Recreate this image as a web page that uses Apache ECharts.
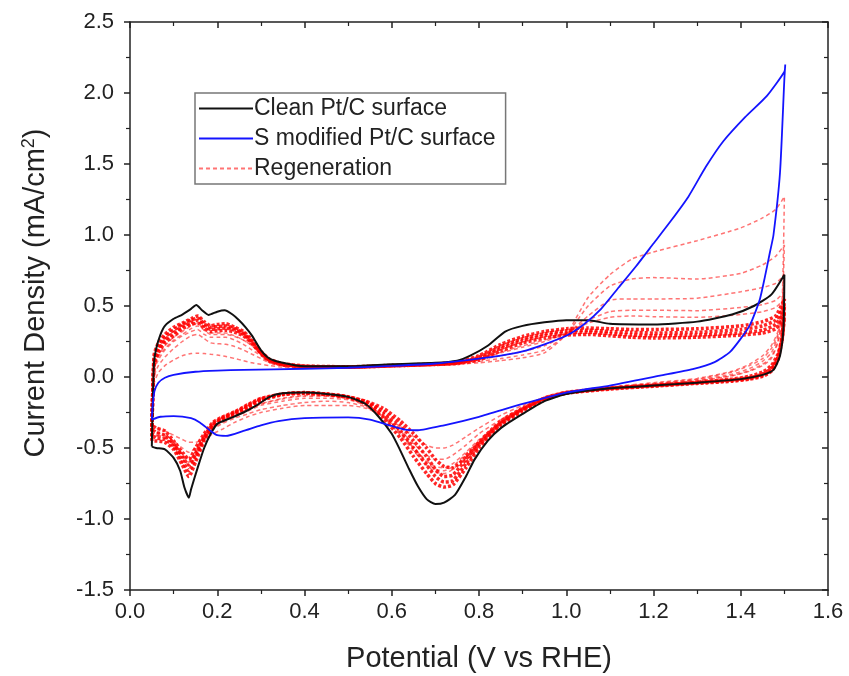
<!DOCTYPE html>
<html>
<head>
<meta charset="utf-8">
<title>CV regeneration</title>
<script src="https://cdn.jsdelivr.net/npm/echarts@6/dist/echarts.min.js"></script>
<style>
  html, body { margin: 0; padding: 0; background: #fff; }
  #chart { width: 849px; height: 676px; }
</style>
</head>
<body>
<div id="chart"></div>
<script>
// clean Pt/C surface, [potential, current density]
var cleanCurve = [
  [0.05,-0.49],[0.052,-0.2],[0.055,0.1],[0.06,0.2],[0.07,0.3],[0.08,0.36],[0.1,0.41],[0.12,0.44],[0.14,0.48],[0.152,0.507],
  [0.165,0.47],[0.18,0.437],[0.2,0.46],[0.217,0.47],[0.235,0.44],[0.25,0.4],[0.265,0.35],[0.28,0.29],[0.3,0.19],[0.32,0.13],
  [0.35,0.1],[0.4,0.075],[0.5,0.075],[0.6,0.09],[0.7,0.1],[0.75,0.115],[0.78,0.15],[0.82,0.22],[0.86,0.32],[0.9,0.36],
  [0.95,0.385],[1.0,0.4],[1.05,0.4],[1.1,0.375],[1.2,0.37],[1.3,0.39],[1.38,0.44],[1.43,0.5],[1.47,0.58],[1.5,0.72],
  [1.498,0.35],[1.49,0.15],[1.475,0.05],[1.45,0.015],[1.4,-0.015],[1.3,-0.04],[1.2,-0.06],[1.1,-0.08],[1.0,-0.12],[0.95,-0.17],
  [0.9,-0.26],[0.85,-0.36],[0.82,-0.45],[0.79,-0.58],[0.77,-0.70],[0.745,-0.83],[0.72,-0.885],[0.7,-0.895],[0.68,-0.86],[0.66,-0.77],
  [0.64,-0.65],[0.62,-0.52],[0.6,-0.40],[0.57,-0.28],[0.54,-0.19],[0.5,-0.14],[0.45,-0.12],[0.4,-0.11],[0.35,-0.115],[0.32,-0.14],
  [0.29,-0.2],[0.26,-0.25],[0.23,-0.29],[0.2,-0.33],[0.185,-0.4],[0.17,-0.5],[0.155,-0.64],[0.14,-0.79],[0.135,-0.85],[0.125,-0.78],
  [0.115,-0.66],[0.1,-0.57],[0.08,-0.51],[0.06,-0.5],[0.05,-0.49]
];

// S modified Pt/C surface
var sModifiedCurve = [
  [0.05,-0.3],[0.052,-0.2],[0.056,-0.1],[0.065,-0.04],[0.08,-0.005],[0.1,0.015],[0.15,0.037],[0.2,0.045],[0.26,0.05],[0.4,0.058],
  [0.5,0.065],[0.6,0.078],[0.7,0.095],[0.8,0.13],[0.85,0.15],[0.9,0.18],[0.95,0.23],[1.0,0.29],[1.04,0.37],[1.08,0.48],
  [1.12,0.63],[1.16,0.78],[1.2,0.94],[1.24,1.1],[1.28,1.27],[1.32,1.48],[1.36,1.66],[1.41,1.83],[1.46,1.98],[1.5,2.15],
  [1.502,2.2],[1.5,2.1],[1.49,1.44],[1.475,1.0],[1.467,0.88],[1.455,0.7],[1.444,0.55],[1.43,0.43],[1.42,0.36],[1.4,0.27],
  [1.375,0.175],[1.34,0.105],[1.29,0.056],[1.215,0.01],[1.1,-0.06],[1.0,-0.11],[0.9,-0.19],[0.8,-0.28],[0.72,-0.34],[0.66,-0.375],
  [0.63,-0.37],[0.6,-0.345],[0.55,-0.3],[0.5,-0.285],[0.4,-0.29],[0.34,-0.31],[0.3,-0.34],[0.26,-0.38],[0.22,-0.415],[0.2,-0.41],
  [0.185,-0.38],[0.16,-0.32],[0.14,-0.29],[0.1,-0.275],[0.07,-0.28],[0.05,-0.3]
];

// regeneration cycles share one potential sweep (up to 1.5 V, then back down)
var regenPotential = [
  0.05,0.055,0.065,0.08,0.1,0.12,0.14,0.155,0.17,0.185,0.2,0.22,0.24,0.26,0.28,0.3,0.32,0.35,0.4,0.5,0.6,0.7,0.75,0.8,0.85,0.9,0.95,1.0,1.05,1.1,1.15,1.2,1.3,1.4,1.45,1.48,1.5,
  1.495,1.485,1.47,1.45,1.42,1.38,1.3,1.2,1.1,1.0,0.95,0.9,0.85,0.8,0.77,0.74,0.72,0.7,0.68,0.65,0.62,0.58,0.54,0.5,0.45,0.4,0.35,0.3,0.27,0.24,0.21,0.19,0.17,0.15,0.135,0.12,0.1,0.08,0.06,0.055,0.05
];

// early cycles (still sulfur covered)
var regenCycle1 = [
  -0.35,-0.05,0.03,0.08,0.12,0.15,0.165,0.168,0.165,0.16,0.155,0.145,0.13,0.115,0.1,0.09,0.08,0.07,0.065,0.065,0.075,0.085,0.09,0.1,0.115,0.135,0.17,0.3,0.56,0.72,0.83,0.88,0.96,1.05,1.12,1.18,1.27,
  0.55,0.32,0.22,0.15,0.09,0.04,-0.01,-0.04,-0.07,-0.11,-0.15,-0.2,-0.27,-0.36,-0.42,-0.48,-0.5,-0.5,-0.48,-0.42,-0.35,-0.27,-0.22,-0.2,-0.2,-0.2,-0.22,-0.25,-0.28,-0.32,-0.37,-0.4,-0.44,-0.46,-0.46,-0.44,-0.41,-0.38,-0.36,-0.35,-0.35
];
var regenCycle2 = [
  -0.38,0.0,0.08,0.14,0.2,0.25,0.29,0.3,0.27,0.24,0.235,0.23,0.215,0.19,0.16,0.13,0.1,0.08,0.07,0.068,0.078,0.088,0.095,0.11,0.13,0.155,0.19,0.3,0.5,0.64,0.69,0.7,0.69,0.73,0.79,0.85,0.93,
  0.5,0.3,0.2,0.13,0.08,0.035,-0.015,-0.045,-0.075,-0.115,-0.16,-0.22,-0.3,-0.4,-0.48,-0.55,-0.58,-0.58,-0.55,-0.47,-0.38,-0.28,-0.21,-0.18,-0.17,-0.18,-0.2,-0.23,-0.26,-0.29,-0.33,-0.37,-0.43,-0.5,-0.53,-0.5,-0.45,-0.41,-0.39,-0.38,-0.38
];
var regenCycle3 = [
  -0.4,0.05,0.12,0.19,0.25,0.29,0.32,0.335,0.3,0.28,0.28,0.28,0.26,0.23,0.19,0.15,0.11,0.085,0.072,0.07,0.08,0.09,0.1,0.12,0.15,0.18,0.22,0.3,0.43,0.54,0.55,0.55,0.555,0.6,0.63,0.66,0.72,
  0.45,0.28,0.17,0.11,0.06,0.02,-0.02,-0.05,-0.08,-0.115,-0.16,-0.23,-0.32,-0.44,-0.53,-0.61,-0.64,-0.63,-0.59,-0.5,-0.4,-0.28,-0.2,-0.16,-0.15,-0.15,-0.17,-0.2,-0.24,-0.28,-0.32,-0.36,-0.44,-0.53,-0.58,-0.54,-0.47,-0.43,-0.41,-0.4,-0.4
];
var regenCycle4 = [
  -0.4,0.08,0.15,0.22,0.28,0.32,0.36,0.38,0.33,0.31,0.31,0.31,0.29,0.26,0.22,0.16,0.12,0.09,0.075,0.07,0.08,0.09,0.105,0.13,0.17,0.21,0.25,0.31,0.4,0.46,0.47,0.47,0.467,0.49,0.51,0.54,0.6,
  0.4,0.25,0.14,0.09,0.045,0.01,-0.025,-0.055,-0.08,-0.115,-0.16,-0.23,-0.33,-0.46,-0.56,-0.65,-0.68,-0.67,-0.62,-0.52,-0.41,-0.28,-0.19,-0.15,-0.13,-0.13,-0.15,-0.19,-0.23,-0.27,-0.31,-0.35,-0.44,-0.56,-0.62,-0.56,-0.48,-0.43,-0.41,-0.4,-0.4
];
var regenCycle5 = [
  -0.4,0.06,0.14,0.2,0.26,0.3,0.34,0.36,0.33,0.3,0.3,0.3,0.285,0.26,0.22,0.16,0.115,0.088,0.073,0.069,0.079,0.09,0.1,0.125,0.175,0.22,0.26,0.31,0.38,0.42,0.43,0.425,0.42,0.44,0.46,0.49,0.55,
  0.38,0.24,0.13,0.08,0.04,0.008,-0.028,-0.056,-0.08,-0.113,-0.155,-0.225,-0.32,-0.45,-0.54,-0.63,-0.66,-0.65,-0.6,-0.5,-0.39,-0.27,-0.19,-0.15,-0.135,-0.135,-0.155,-0.19,-0.23,-0.27,-0.31,-0.35,-0.43,-0.54,-0.6,-0.55,-0.47,-0.42,-0.41,-0.4,-0.4
];

// later cycles, nearly back to the clean surface (the thick band)
var regenLate1 = [
  -0.35,0.08,0.17,0.24,0.29,0.34,0.37,0.38,0.345,0.32,0.325,0.33,0.315,0.29,0.235,0.165,0.11,0.085,0.072,0.068,0.078,0.088,0.095,0.12,0.185,0.24,0.275,0.295,0.3,0.29,0.28,0.275,0.28,0.295,0.31,0.34,0.42,
  0.28,0.16,0.08,0.035,0.005,-0.015,-0.038,-0.058,-0.078,-0.108,-0.148,-0.22,-0.31,-0.46,-0.56,-0.64,-0.63,-0.58,-0.5,-0.4,-0.31,-0.22,-0.17,-0.14,-0.12,-0.11,-0.12,-0.15,-0.195,-0.245,-0.285,-0.32,-0.4,-0.5,-0.58,-0.53,-0.45,-0.38,-0.36,-0.35,-0.35
];
var regenLate2 = [
  -0.38,0.1,0.19,0.26,0.31,0.355,0.385,0.4,0.36,0.335,0.34,0.345,0.33,0.3,0.24,0.17,0.115,0.088,0.074,0.069,0.079,0.089,0.098,0.13,0.2,0.255,0.29,0.31,0.315,0.305,0.295,0.29,0.295,0.31,0.33,0.37,0.46,
  0.27,0.14,0.06,0.02,-0.005,-0.02,-0.04,-0.06,-0.08,-0.11,-0.15,-0.225,-0.32,-0.47,-0.58,-0.69,-0.7,-0.65,-0.56,-0.45,-0.34,-0.24,-0.175,-0.14,-0.12,-0.11,-0.12,-0.155,-0.2,-0.25,-0.29,-0.33,-0.42,-0.54,-0.62,-0.56,-0.47,-0.41,-0.39,-0.38,-0.38
];
var regenLate3 = [
  -0.42,0.12,0.21,0.28,0.33,0.37,0.4,0.415,0.375,0.35,0.355,0.36,0.34,0.31,0.25,0.175,0.12,0.09,0.075,0.07,0.08,0.09,0.1,0.14,0.215,0.27,0.305,0.325,0.33,0.32,0.315,0.31,0.315,0.335,0.36,0.4,0.5,
  0.27,0.13,0.05,0.012,-0.01,-0.025,-0.042,-0.062,-0.082,-0.112,-0.155,-0.23,-0.33,-0.48,-0.61,-0.73,-0.74,-0.7,-0.62,-0.5,-0.38,-0.26,-0.18,-0.14,-0.12,-0.112,-0.12,-0.16,-0.21,-0.255,-0.295,-0.34,-0.43,-0.57,-0.66,-0.59,-0.49,-0.44,-0.43,-0.42,-0.42
];
var regenLate4 = [
  -0.45,0.15,0.24,0.3,0.35,0.38,0.41,0.43,0.39,0.36,0.37,0.375,0.35,0.32,0.26,0.18,0.125,0.095,0.078,0.072,0.082,0.092,0.105,0.15,0.23,0.285,0.32,0.34,0.345,0.34,0.335,0.335,0.34,0.36,0.39,0.43,0.55,
  0.28,0.12,0.04,0.005,-0.015,-0.03,-0.045,-0.065,-0.085,-0.115,-0.16,-0.24,-0.34,-0.5,-0.64,-0.76,-0.775,-0.75,-0.68,-0.56,-0.43,-0.29,-0.19,-0.145,-0.125,-0.115,-0.125,-0.165,-0.215,-0.26,-0.3,-0.35,-0.45,-0.6,-0.7,-0.62,-0.51,-0.46,-0.45,-0.45,-0.45
];

var earlyCycles = [regenCycle1, regenCycle2, regenCycle3, regenCycle4, regenCycle5];
var lateCycles = [regenLate1, regenLate2, regenLate3, regenLate4];

var font = 'Liberation Sans, Arial, sans-serif';

function toPairs(currents) {
  return regenPotential.map(function (v, i) { return [v, currents[i]]; });
}

var series = [];
earlyCycles.forEach(function (c) {
  series.push({
    name: 'Regeneration', type: 'line', data: toPairs(c), symbol: 'none', smooth: 0.2, z: 2,
    itemStyle: { color: '#ff5555' },
    lineStyle: { color: 'rgba(255,30,30,0.62)', width: 1.5, type: [4, 3] }
  });
});
lateCycles.forEach(function (c) {
  series.push({
    name: 'Regeneration', type: 'line', data: toPairs(c), symbol: 'none', smooth: 0.2, z: 2,
    itemStyle: { color: '#ff5555' },
    lineStyle: { color: 'rgba(255,0,0,0.85)', width: 3.5, type: [3, 2] }
  });
});
series.push({
  name: 'Clean Pt/C surface', type: 'line', data: cleanCurve, symbol: 'none', smooth: 0.2, z: 4,
  itemStyle: { color: '#111' },
  lineStyle: { color: '#111', width: 2 }
});
series.push({
  name: 'S modified Pt/C surface', type: 'line', data: sModifiedCurve, symbol: 'none', smooth: 0.2, z: 4,
  itemStyle: { color: '#1414ff' },
  lineStyle: { color: '#1414ff', width: 1.8 }
});

var axisLine = { onZero: false, lineStyle: { color: '#222', width: 1.5 } };
var tickStyle = { color: '#222', width: 1.5 };
var minorStyle = { color: '#222', width: 1.2 };

var myChart = echarts.init(document.getElementById('chart'));
var option = {
  backgroundColor: '#fff',
  animation: false,
  grid: { left: 130, right: 21, top: 22, bottom: 86, outerBoundsMode: 'none' },
  legend: {
    data: ['Clean Pt/C surface', 'S modified Pt/C surface', 'Regeneration'],
    orient: 'vertical',
    left: 195, top: 93,
    itemWidth: 54, itemHeight: 14, itemGap: 7,
    padding: [4, 10, 4, 3],
    borderColor: '#777', borderWidth: 1.5,
    itemStyle: { opacity: 0 },
    textStyle: { fontFamily: font, fontSize: 23, color: '#222', padding: [0, 0, 0, -4] }
  },
  xAxis: [{
    type: 'value', min: 0, max: 1.6, interval: 0.2,
    name: 'Potential (V vs RHE)', nameLocation: 'middle', nameGap: 54,
    nameTextStyle: { fontFamily: font, fontSize: 29, color: '#222' },
    axisLine: axisLine,
    axisTick: { inside: false, length: 6, lineStyle: tickStyle },
    minorTick: { show: true, splitNumber: 2, length: 4, lineStyle: minorStyle },
    axisLabel: { fontFamily: font, fontSize: 22, color: '#222', margin: 11, formatter: function (v) { return v.toFixed(1); } },
    splitLine: { show: false }
  }, {
    type: 'value', position: 'top', min: 0, max: 1.6, interval: 0.2,
    axisLine: axisLine,
    axisTick: { inside: true, length: 6, lineStyle: tickStyle },
    minorTick: { show: true, splitNumber: 2, length: 4, lineStyle: minorStyle },
    axisLabel: { show: false }, splitLine: { show: false }
  }],
  yAxis: [{
    type: 'value', min: -1.5, max: 2.5, interval: 0.5,
    name: 'Current Density (mA/cm{sup|2})', nameLocation: 'middle', nameGap: 78,
    nameTextStyle: {
      fontFamily: font, fontSize: 29, color: '#222', padding: [0, 0, 0, 26],
      rich: { sup: { fontFamily: font, fontSize: 18, color: '#222', padding: [0, 0, 14, 0] } }
    },
    axisLine: axisLine,
    axisTick: { inside: false, length: 6, lineStyle: tickStyle },
    minorTick: { show: true, splitNumber: 2, length: 4, lineStyle: minorStyle },
    axisLabel: { fontFamily: font, fontSize: 22, color: '#222', margin: 16, formatter: function (v) { return v.toFixed(1); } },
    splitLine: { show: false }
  }, {
    type: 'value', position: 'right', min: -1.5, max: 2.5, interval: 0.5,
    axisLine: axisLine,
    axisTick: { inside: true, length: 6, lineStyle: tickStyle },
    minorTick: { show: true, splitNumber: 2, length: 4, lineStyle: minorStyle },
    axisLabel: { show: false }, splitLine: { show: false }
  }],
  series: series
};
myChart.setOption(option);
</script>
</body>
</html>
